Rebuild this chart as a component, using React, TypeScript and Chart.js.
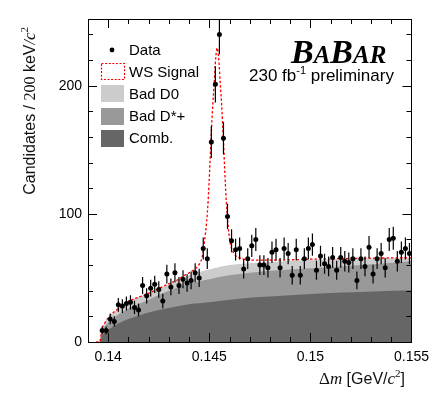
import React, { useEffect, useRef } from 'react';
import { Chart, registerables } from 'chart.js';

Chart.register(...registerables);

// ---------- data ----------
const BIN_START = 0.1397; // centre of first 200 keV bin (GeV)
const BIN_WIDTH = 0.0002;
const counts = [
  9, 9, 18, 16, 29, 28, 30, 31, 27, 25,
  44, 36, 42, 45, 41, 32, 53, 43, 54, 44,
  49, 46, 48, 54, 50, 73, 65, 156, 201, 240,
  159, 98, 79, 72, 73, 57, 65, 75, 80, 60,
  60, 58, 70, 72, 58, 73, 69, 52, 72, 52,
  65, 73, 76, 56, 67, 61, 59, 66, 56, 66,
  63, 62, 65, 48, 65, 59, 74, 53, 65, 69,
  58, 80, 81, 63, 70, 73, 69,
];

// background components, stacked tops
const bgX = [0.13957, 0.1397, 0.1398, 0.14, 0.1405, 0.141, 0.142, 0.143, 0.144, 0.145, 0.146, 0.147, 0.148, 0.15, 0.1525, 0.155];
const combTop = [0, 5, 7, 9.5, 14.5, 18, 23, 26.5, 29.5, 31, 33, 34.5, 35.5, 37.5, 39, 40.3];
const badDstarTop = [0, 8.5, 11.5, 15.5, 21.5, 26, 33, 40, 45.5, 49, 52, 54, 55.5, 57.5, 60, 63];
const badD0Top = [0, 10.5, 14, 19, 26, 31.5, 38, 45, 52, 56.5, 60, 61.5, 62.5, 64, 65, 65.5];

// total fit (WS signal + backgrounds)
const fitX = [
  0.1394, 0.13957, 0.1397, 0.1398, 0.14, 0.1405, 0.141, 0.142, 0.143, 0.1435,
  0.14382, 0.14412, 0.14441, 0.14465, 0.14476, 0.14487, 0.14494, 0.14502, 0.14509, 0.14517,
  0.14523, 0.14532, 0.14539, 0.14546, 0.14555, 0.14561, 0.14569, 0.14576, 0.14584, 0.14591,
  0.14602, 0.14621, 0.14654, 0.14701, 0.1475, 0.148, 0.15, 0.1525, 0.155,
];
const fitY = [
  0, 0, 10.5, 14, 19, 26, 31.5, 38, 45.5, 49,
  52.5, 55, 58.8, 66.6, 78.4, 94, 109.6, 135, 160, 185,
  199.5, 222, 229.5, 222, 199.5, 185, 160, 135, 109.6, 94,
  78.4, 69.3, 65.4, 64, 63.8, 63.8, 64.6, 65.3, 65.8,
];

const xTickValues = [0.14, 0.145, 0.15, 0.155];
const yTickValues = [0, 100, 200];
const legendLabels = ['Data', 'WS Signal', 'Bad D0', 'Bad D*+', 'Comb.'];

const X_MIN = 0.139;
const X_MAX = 0.155;
const Y_MIN = 0;
const Y_MAX = 252;

const SANS = '"Liberation Sans", Arial, Helvetica, sans-serif';
const SERIF = '"Liberation Serif", "Times New Roman", serif';
const C_LIGHT = '#cccccc';
const C_MID = '#999999';
const C_DARK = '#666666';
const C_RED = '#ff0000';

type Seg = { t: string; font: string; dy?: number };

function segsWidth(ctx: CanvasRenderingContext2D, segs: Seg[]) {
  let w = 0;
  for (const s of segs) {
    ctx.font = s.font;
    w += ctx.measureText(s.t).width;
  }
  return w;
}

function drawSegs(ctx: CanvasRenderingContext2D, segs: Seg[], x: number, y: number) {
  let cx = x;
  for (const s of segs) {
    ctx.font = s.font;
    ctx.fillText(s.t, cx, y + (s.dy || 0));
    cx += ctx.measureText(s.t).width;
  }
}

const decorPlugin = {
  id: 'decor',
  afterDatasetsDraw(chart: any) {
    const ctx: CanvasRenderingContext2D = chart.ctx;
    const { left, right, top, bottom } = chart.chartArea;
    const xs = chart.scales.x;
    const ys = chart.scales.y;
    // error bars
    ctx.save();
    ctx.beginPath();
    ctx.rect(left, top, right - left, bottom - top);
    ctx.clip();
    ctx.strokeStyle = '#000';
    ctx.lineWidth = 1.2;
    counts.forEach((n, i) => {
      const x = xs.getPixelForValue(BIN_START + i * BIN_WIDTH);
      const e = Math.sqrt(n);
      ctx.beginPath();
      ctx.moveTo(x, ys.getPixelForValue(n - e));
      ctx.lineTo(x, ys.getPixelForValue(n + e));
      ctx.stroke();
    });
    ctx.restore();
  },
  afterDraw(chart: any) {
    const ctx: CanvasRenderingContext2D = chart.ctx;
    const { left, right, top, bottom } = chart.chartArea;
    const xs = chart.scales.x;
    const ys = chart.scales.y;
    ctx.save();
    // frame
    ctx.strokeStyle = '#000';
    ctx.lineWidth = 1;
    ctx.strokeRect(Math.round(left) + 0.5, Math.round(top) + 0.5, Math.round(right - left), Math.round(bottom - top));
    // ticks
    ctx.beginPath();
    for (let v = 139; v <= 155; v++) {
      const px = Math.round(xs.getPixelForValue(v / 1000)) + 0.5;
      const L = v % 5 === 0 ? 9 : 5;
      ctx.moveTo(px, bottom);
      ctx.lineTo(px, bottom - L);
      ctx.moveTo(px, top);
      ctx.lineTo(px, top + L);
    }
    for (let v = 0; v <= 240; v += 20) {
      const py = Math.round(ys.getPixelForValue(v)) + 0.5;
      const L = v % 100 === 0 ? 9 : 5;
      ctx.moveTo(left, py);
      ctx.lineTo(left + L, py);
      ctx.moveTo(right, py);
      ctx.lineTo(right - L, py);
    }
    ctx.stroke();

    // axis titles
    ctx.fillStyle = '#111';
    ctx.textBaseline = 'alphabetic';
    ctx.textAlign = 'left';
    const yTitle: Seg[] = [
      { t: 'Candidates / ', font: `16px ${SANS}` },
      { t: '200', font: `16px ${SERIF}` },
      { t: ' keV', font: `16px ${SANS}` },
      { t: '/', font: `italic 16px ${SERIF}` },
      { t: 'c', font: `italic 17px ${SERIF}` },
      { t: '2', font: `11px ${SERIF}`, dy: -7 },
    ];
    const wy = segsWidth(ctx, yTitle);
    ctx.save();
    ctx.translate(35, 27 + wy);
    ctx.rotate(-Math.PI / 2);
    drawSegs(ctx, yTitle, 0, 0);
    ctx.restore();

    const xTitle: Seg[] = [
      { t: '\u0394', font: `17px ${SERIF}` },
      { t: 'm', font: `italic 17px ${SERIF}` },
      { t: ' [GeV/', font: `16px ${SANS}` },
      { t: 'c', font: `italic 17px ${SERIF}` },
      { t: '2', font: `11px ${SERIF}`, dy: -7 },
      { t: ']', font: `16px ${SANS}` },
    ];
    const wx = segsWidth(ctx, xTitle);
    drawSegs(ctx, xTitle, 405 - wx, 384);

    // legend
    ctx.fillStyle = '#000';
    ctx.beginPath();
    ctx.arc(112, 50, 2.4, 0, Math.PI * 2);
    ctx.fill();
    ctx.save();
    ctx.strokeStyle = C_RED;
    ctx.lineWidth = 1.2;
    ctx.setLineDash([2, 1.6]);
    ctx.strokeRect(101.5, 63.5, 23, 16);
    ctx.restore();
    ctx.fillStyle = C_LIGHT;
    ctx.fillRect(101, 85, 23, 17);
    ctx.fillStyle = C_MID;
    ctx.fillRect(101, 108, 23, 17);
    ctx.fillStyle = C_DARK;
    ctx.fillRect(101, 130, 23, 17);
    ctx.fillStyle = '#000';
    ctx.font = `15px ${SANS}`;
    const ly = [55, 77, 99, 121, 143];
    legendLabels.forEach((lab, i) => ctx.fillText(lab, 129, ly[i]));

    // BaBar logo
    const big = `bold italic 34px ${SERIF}`;
    const small = `bold italic 25px ${SERIF}`;
    drawSegs(ctx, [
      { t: 'B', font: big },
      { t: 'A', font: small },
      { t: 'B', font: big },
      { t: 'AR', font: small },
    ], 291, 63);
    drawSegs(ctx, [
      { t: '230 fb', font: `17px ${SANS}` },
      { t: '-1', font: `11px ${SANS}`, dy: -7 },
      { t: ' preliminary', font: `17px ${SANS}` },
    ], 249, 81);
    ctx.restore();
  },
};

export default function App() {
  const ref = useRef<HTMLCanvasElement | null>(null);
  useEffect(() => {
    if (!ref.current) return;
    const pts = counts.map((n, i) => ({ x: BIN_START + i * BIN_WIDTH, y: n }));
    const area = (ys: number[], color: string, order: number) => ({
      data: bgX.map((x, i) => ({ x, y: ys[i] })),
      backgroundColor: color,
      borderColor: 'rgba(0,0,0,0)',
      borderWidth: 0,
      fill: 'origin',
      pointRadius: 0,
      cubicInterpolationMode: 'monotone',
      order,
    });
    const chart = new Chart(ref.current, {
      type: 'line',
      data: {
        datasets: [
          {
            data: pts,
            showLine: false,
            pointRadius: 2.5,
            pointBackgroundColor: '#000',
            pointBorderWidth: 0,
            borderColor: '#000',
            order: 0,
          } as any,
          {
            data: fitX.map((x, i) => ({ x, y: fitY[i] })),
            borderColor: C_RED,
            borderWidth: 1.3,
            borderDash: [2.5, 2],
            pointRadius: 0,
            fill: false,
            cubicInterpolationMode: 'monotone',
            order: 1,
          } as any,
          area(combTop, C_DARK, 2) as any,
          area(badDstarTop, C_MID, 3) as any,
          area(badD0Top, C_LIGHT, 4) as any,
        ],
      },
      options: {
        responsive: false,
        devicePixelRatio: 1,
        animation: false,
        layout: { padding: { top: 19, right: 22, left: 0, bottom: 0 } },
        plugins: { legend: { display: false }, tooltip: { enabled: false } },
        scales: {
          x: {
            type: 'linear',
            min: X_MIN,
            max: X_MAX,
            afterBuildTicks: (s: any) => {
              s.ticks = xTickValues.map((v) => ({ value: v }));
            },
            afterFit: (s: any) => {
              s.height = 56;
            },
            grid: { display: false, drawTicks: false },
            border: { display: false },
            ticks: {
              color: '#000',
              font: { family: SANS, size: 14 },
              padding: 7,
              maxRotation: 0,
              autoSkip: false,
              callback: (v: any) => String(v),
            },
          },
          y: {
            type: 'linear',
            min: Y_MIN,
            max: Y_MAX,
            afterBuildTicks: (s: any) => {
              s.ticks = yTickValues.map((v) => ({ value: v }));
            },
            afterFit: (s: any) => {
              s.width = 88;
            },
            grid: { display: false, drawTicks: false },
            border: { display: false },
            ticks: {
              color: '#000',
              font: { family: SANS, size: 14 },
              padding: 6,
              autoSkip: false,
              callback: (v: any) => String(v),
            },
          },
        },
      } as any,
      plugins: [decorPlugin],
    });
    return () => chart.destroy();
  }, []);
  return (
    <div style={{ position: 'absolute', left: 0, top: 0, width: 436, height: 398, background: '#fff' }}>
      <canvas ref={ref} width={436} height={398} style={{ display: 'block' }} />
    </div>
  );
}
